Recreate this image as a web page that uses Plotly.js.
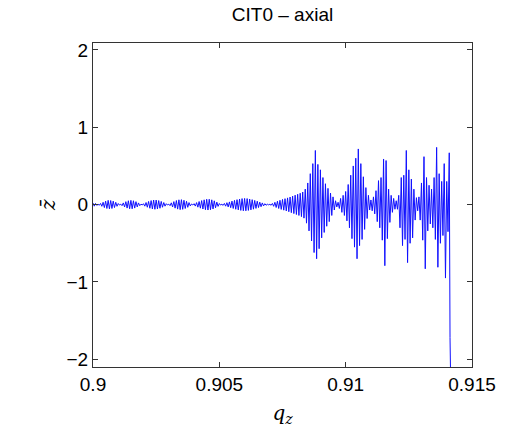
<!DOCTYPE html>
<html>
<head>
<meta charset="utf-8">
<script src="https://cdn.plot.ly/plotly-3.0.1.min.js"></script>
<style>html,body{margin:0;padding:0;background:#fff;}#chart{width:509px;height:435px;}</style>
</head>
<body>
<div id="chart"></div>
<script>
// axial coordinate q_z (sample positions)
const qz = [
0.90000,0.90005,0.90010,0.90015,0.90020,0.90025,0.90030,0.90035,0.90040,0.90045,
0.90050,0.90055,0.90060,0.90065,0.90070,0.90075,0.90080,0.90085,0.90090,0.90095,
0.90100,0.90105,0.90110,0.90115,0.90120,0.90125,0.90130,0.90135,0.90140,0.90145,
0.90150,0.90155,0.90160,0.90165,0.90170,0.90175,0.90180,0.90185,0.90190,0.90195,
0.90200,0.90205,0.90210,0.90215,0.90220,0.90225,0.90230,0.90235,0.90240,0.90245,
0.90250,0.90255,0.90260,0.90265,0.90270,0.90275,0.90280,0.90285,0.90290,0.90295,
0.90300,0.90305,0.90310,0.90315,0.90320,0.90325,0.90330,0.90335,0.90340,0.90345,
0.90350,0.90355,0.90360,0.90365,0.90370,0.90375,0.90380,0.90385,0.90390,0.90395,
0.90400,0.90405,0.90410,0.90415,0.90420,0.90425,0.90430,0.90435,0.90440,0.90445,
0.90450,0.90455,0.90460,0.90465,0.90470,0.90475,0.90480,0.90485,0.90490,0.90495,
0.90500,0.90505,0.90510,0.90515,0.90520,0.90525,0.90530,0.90535,0.90540,0.90545,
0.90550,0.90555,0.90560,0.90565,0.90570,0.90575,0.90580,0.90585,0.90590,0.90595,
0.90600,0.90605,0.90610,0.90615,0.90620,0.90625,0.90630,0.90635,0.90640,0.90645,
0.90650,0.90655,0.90660,0.90665,0.90670,0.90675,0.90680,0.90685,0.90690,0.90695,
0.90700,0.90705,0.90710,0.90715,0.90720,0.90725,0.90730,0.90735,0.90740,0.90745,
0.90750,0.90755,0.90760,0.90765,0.90770,0.90775,0.90780,0.90785,0.90790,0.90795,
0.90800,0.90805,0.90810,0.90815,0.90820,0.90825,0.90830,0.90835,0.90840,0.90845,
0.90850,0.90855,0.90860,0.90865,0.90870,0.90875,0.90880,0.90885,0.90890,0.90895,
0.90900,0.90905,0.90910,0.90915,0.90920,0.90925,0.90930,0.90935,0.90940,0.90945,
0.90950,0.90955,0.90960,0.90965,0.90970,0.90975,0.90980,0.90985,0.90990,0.90995,
0.91000,0.91005,0.91010,0.91015,0.91020,0.91025,0.91030,0.91035,0.91040,0.91045,
0.91050,0.91055,0.91060,0.91065,0.91070,0.91075,0.91080,0.91085,0.91090,0.91095,
0.91100,0.91105,0.91110,0.91115,0.91120,0.91125,0.91130,0.91135,0.91140,0.91145,
0.91150,0.91155,0.91160,0.91165,0.91170,0.91175,0.91180,0.91185,0.91190,0.91195,
0.91200,0.91205,0.91210,0.91215,0.91220,0.91225,0.91230,0.91235,0.91240,0.91245,
0.91250,0.91255,0.91260,0.91265,0.91270,0.91275,0.91280,0.91285,0.91290,0.91295,
0.91300,0.91305,0.91310,0.91315,0.91320,0.91325,0.91330,0.91335,0.91340,0.91345,
0.91350,0.91355,0.91360,0.91365,0.91370,0.91375,0.91380,0.91385,0.91390,0.91395,
0.91400,0.91405,0.91410,0.91413,0.91419
];

// normalised axial displacement z-bar, read lobe by lobe
const zLowLobes = [
0.02,-0.02,0.015,-0.01,0.005,
-0.008,0.015,-0.022,0.03,-0.038,0.045,-0.05,0.055,-0.055,0.053,-0.05,0.045,-0.038,0.03,-0.022,0.014,-0.006,
0.006,-0.014,0.022,-0.03,0.038,-0.045,0.05,-0.054,0.055,-0.054,0.05,-0.045,0.038,-0.03,0.022,-0.014,0.006,
-0.005,0.012,-0.02,0.027,-0.034,0.041,-0.047,0.052,-0.056,0.059,-0.06,0.059,-0.056,0.052,-0.047,0.041,-0.034,0.027,-0.02,0.012,-0.005,
0.006,-0.014,0.023,-0.031,0.039,-0.046,0.053,-0.058,0.062,-0.065,0.064,-0.061,0.056,-0.05,0.043,-0.035,0.026,-0.017,0.008,
-0.005,0.012,-0.019,0.026,-0.033,0.04,-0.046,0.052,-0.057,0.062,-0.066,0.069,-0.07,0.069,-0.066,0.062,-0.056,0.049,-0.041,0.032,-0.023,0.014,-0.006,
0.005,-0.01,0.015,-0.02,0.025,-0.03,0.035,-0.04,0.045,-0.05,0.055,-0.06,0.064,-0.068,0.072,-0.075,0.078,-0.08,0.08,-0.08,0.078,-0.075,0.072,-0.068,0.064,-0.059,0.054,-0.049,0.044,-0.038,0.032,-0.027,0.022,-0.017,0.012,-0.008,0.005,-0.003
];
const zBigLobes = [
0.004,-0.008,0.015,-0.022,0.03,-0.037,0.044,-0.05,0.056,-0.062,0.067,-0.072,0.077,-0.082,0.087,-0.092,0.098,-0.104,0.11,-0.116,0.122,-0.128,0.134,-0.14,0.147,-0.155,0.163,-0.175,0.2,-0.24,0.28,-0.34,0.4,-0.47,0.53,-0.62,0.7,-0.7,0.52,-0.57,0.45,-0.43,0.35,-0.36,0.27,-0.28,0.21,-0.22,0.15,-0.14,0.1,-0.07,0.05,-0.03,
0.03,-0.05,0.08,-0.1,0.12,-0.14,0.17,-0.21,0.26,-0.3,0.38,-0.44,0.5,-0.55,0.6,-0.7,0.72,-0.53,0.53,-0.45,0.36,-0.32,0.22,-0.18,0.12,-0.07,
0.06,-0.08,0.1,-0.12,0.18,-0.22,0.31,-0.3,0.35,-0.46,0.59,-0.79,0.57,-0.44,0.2,-0.23,0.12,-0.1,0.08,-0.06,0.05,
-0.06,0.12,-0.3,0.35,-0.53,0.38,-0.45,0.7,-0.75,0.45,-0.5,0.33,-0.43,0.2,-0.2,0.09,-0.08,
0.1,-0.2,0.28,-0.46,0.62,-0.83,0.35,-0.34,0.25,-0.25,
0.2,-0.3,0.35,-0.45,0.74,-0.81,0.4,-0.5,0.3,-0.4,0.53,-0.95,0.3,-0.35,0.67,
-1.72,-3.0
];
const zbar = zLowLobes.concat(zBigLobes);

const xTickVals = [0.9, 0.905, 0.91, 0.915];
const xTickText = ['0.9', '0.905', '0.91', '0.915'];
const yTickVals = [-2, -1, 0, 1, 2];
const yTickText = ['\u22122', '\u22121', '0', '1', '2'];

const axisCommon = {
  showgrid: false, zeroline: false, showline: true, mirror: 'ticks',
  linecolor: '#333', linewidth: 1, ticks: 'inside', ticklen: 5, tickcolor: '#333',
  tickfont: {family: 'Liberation Sans, Arial, sans-serif', size: 19, color: '#000'}
};

Plotly.newPlot('chart', [{
  x: qz, y: zbar, type: 'scatter', mode: 'lines',
  line: {color: '#1010ff', width: 1}, hoverinfo: 'skip'
}], {
  width: 509, height: 435,
  margin: {l: 93, r: 37, t: 43, b: 68},
  paper_bgcolor: '#fff', plot_bgcolor: '#fff',
  showlegend: false,
  title: {text: 'CIT0 \u2013 axial', x: 0.555, xanchor: 'center', y: 0.966, yanchor: 'middle',
          font: {family: 'Liberation Sans, Arial, sans-serif', size: 19, color: '#000'}},
  xaxis: Object.assign({}, axisCommon, {
    range: [0.9, 0.915], tickvals: xTickVals, ticktext: xTickText,
    title: {text: '<i>q</i><sub><i>z</i></sub>', standoff: 12,
            font: {family: 'DejaVu Serif, Liberation Serif, serif', size: 20, color: '#000'}}
  }),
  yaxis: Object.assign({}, axisCommon, {
    range: [-2.1, 2.09], tickvals: yTickVals, ticktext: yTickText
  }),
  annotations: [{
    text: '<i>z\u0304</i>', xref: 'paper', yref: 'paper', x: -0.119, y: 0.5,
    xanchor: 'center', yanchor: 'middle', showarrow: false, textangle: -90,
    font: {family: 'DejaVu Serif, Liberation Serif, serif', size: 20, color: '#000'}
  }]
}, {staticPlot: true, displayModeBar: false});
</script>
</body>
</html>
